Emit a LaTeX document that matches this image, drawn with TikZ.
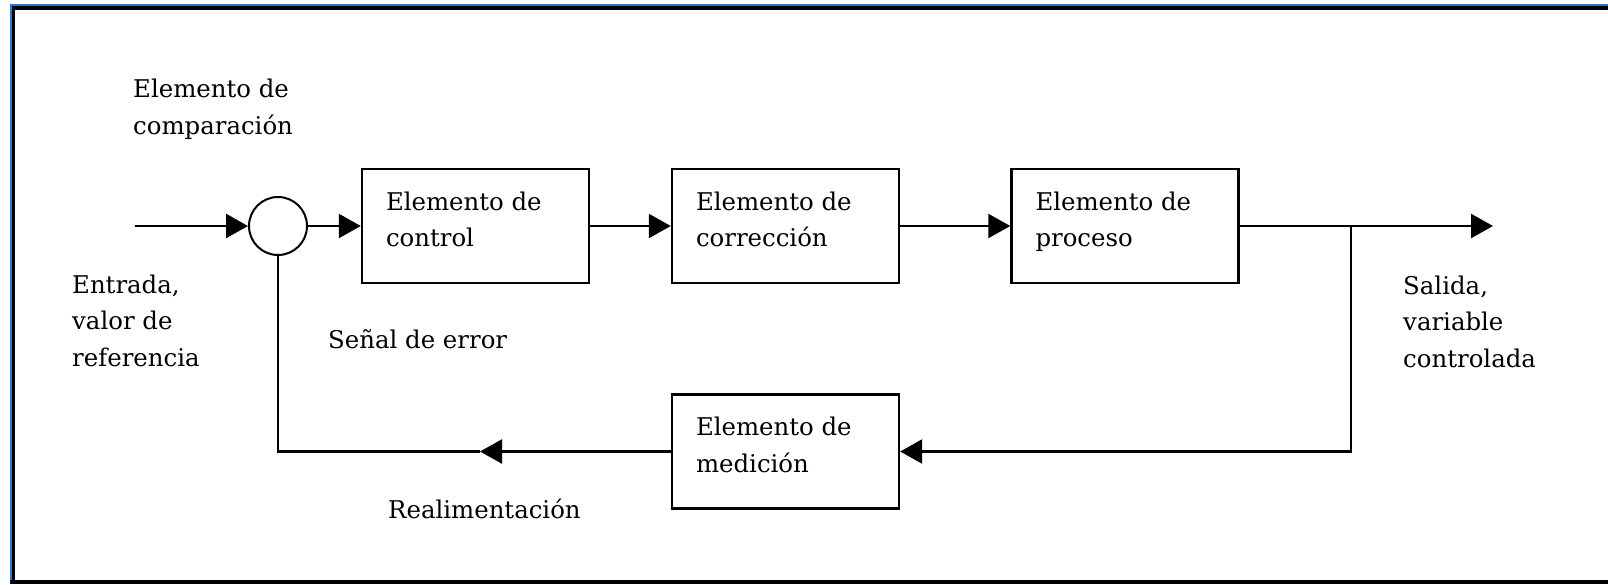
\documentclass[tikz,border=0pt]{standalone}
\usepackage{fontspec}
\setmainfont{DejaVu Serif}
\usetikzlibrary{arrows.meta,calc}
\definecolor{frameblue}{RGB}{40,120,210}
\begin{document}
\begin{tikzpicture}[x=1pt,y=-1pt,
  blk/.style={draw, line width=2.4pt, minimum width=227pt, minimum height=114pt, inner sep=0pt},
  sumc/.style={draw, circle, line width=2pt, minimum size=58pt, inner sep=0pt},
  txt/.style={anchor=base west, inner sep=0pt, align=left, font=\fontsize{24.4}{36.5}\selectfont},
  conn/.style={line width=2.4pt},
  arr/.style={conn, -{Triangle[length=22pt,width=24pt]}}]
\useasboundingbox (0,0) rectangle (1608,584);
% frame
\fill[white] (0,0) rectangle (1608,584);
\fill[frameblue] (10,4) rectangle (1608,6);
\fill[black] (12,6) rectangle (1608,10);
\fill[frameblue] (10,4) rectangle (12,584);
\fill[black] (12,6) rectangle (15,584);
\fill[black] (10,580) rectangle (1608,584);
% blocks
\node[sumc] (sum) at (278,226) {};
\node[blk] (b1) at (475.5,226) {};
\node[blk] (b2) at (785.5,226) {};
\node[blk] (b3) at (1125,226) {};
\node[blk] (meas) at (785.5,451.5) {};
% block texts (base = baseline of last line)
\node[txt] (t1) at ($(b1.north west)+(25,79)$) {Elemento de\\control};
\node[txt] (t2) at ($(b2.north west)+(25,79)$) {Elemento de\\corrección};
\node[txt] (t3) at ($(b3.north west)+(25,79)$) {Elemento de\\proceso};
\node[txt] (t4) at ($(meas.north west)+(25,79)$) {Elemento de\\medición};
% free labels
\node[txt] (lcomp) at (133,134) {Elemento de\\comparación};
\node[txt] (lin) at (72,366) {Entrada,\\valor de\\referencia};
\node[txt] (lerr) at (328,348) {Señal de error};
\node[txt] (lfb) at (388,518) {Realimentación};
\node[txt] (lout) at (1403,367) {Salida,\\variable\\controlada};
% connectors
\coordinate (in) at (135,226);
\coordinate (out) at (1493,226);
\coordinate (br) at (1351,226);
\coordinate (brd) at (1351,451.5);
\coordinate (mid) at (480,451.5);
\coordinate (fbl) at (278,451.5);
\draw[arr] (in) -- (sum.west);
\draw[arr] (sum.east) -- (b1.west);
\draw[arr] (b1.east) -- (b2.west);
\draw[arr] (b2.east) -- (b3.west);
\draw[arr] (b3.east) -- (out);
\draw[arr] (br) -- (brd) -- (meas.east);
\draw[arr] (meas.west) -- (mid);
\draw[conn] (mid) -- (fbl) -- (sum.south);
\end{tikzpicture}
\end{document}
